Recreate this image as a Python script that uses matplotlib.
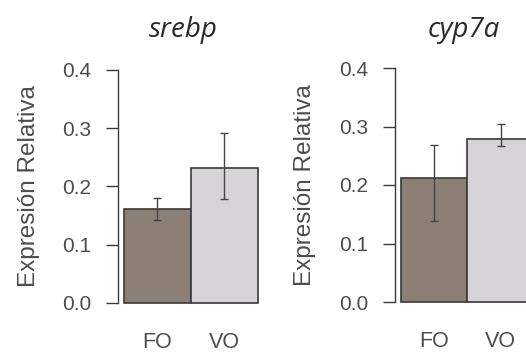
import matplotlib
matplotlib.use("Agg")
import matplotlib.pyplot as plt
import numpy as np

genes = ["srebp", "cyp7a"]
groups = ["FO", "VO"]
# mean relative expression per gene, FO then VO
means = {"srebp": [0.161, 0.231], "cyp7a": [0.212, 0.279]}
# whisker ends
err_lo = {"srebp": [0.143, 0.178], "cyp7a": [0.139, 0.267]}
err_hi = {"srebp": [0.180, 0.291], "cyp7a": [0.268, 0.304]}
yticks = [0.0, 0.1, 0.2, 0.3, 0.4]

bar_colors = ["#8b7f76", "#d6d4d7"]
W, H = 526, 354

fig = plt.figure(figsize=(W / 100, H / 100), dpi=100)
fig.patch.set_facecolor("white")

# panel geometry in pixels: (axis x, y of 0.0, y of 0.4, title centre x)
panels = [(118, 303, 70, 183.5), (394.5, 302, 68, 463.5)]
ax_w = 146.4
xlim = (-0.09, 2.1)

for gene, (px, y0, y4, tx) in zip(genes, panels):
    ax = fig.add_axes([px / W, 1 - y0 / H, ax_w / W, (y0 - y4) / H])
    x = np.arange(len(groups)) + 0.5
    m = np.array(means[gene])
    lo = m - np.array(err_lo[gene])
    hi = np.array(err_hi[gene]) - m
    ax.bar(x, m, width=1.0, color=bar_colors, edgecolor="#3a3a3a",
           linewidth=1.2, clip_on=False, zorder=2)
    ax.errorbar(x, m, yerr=[lo, hi], fmt="none", ecolor="#444444",
                elinewidth=1.0, capsize=3, capthick=1.0, zorder=3)
    ax.set_xlim(*xlim)
    ax.set_ylim(0, 0.4)
    ax.set_yticks(yticks)
    ax.set_yticklabels([f"{t:.1f}" for t in yticks])
    ax.set_xticks(x)
    ax.set_xticklabels(groups)
    for s in ["top", "right", "bottom"]:
        ax.spines[s].set_visible(False)
    ax.spines["left"].set_color("#3a3a3a")
    ax.spines["left"].set_linewidth(1.0)
    ax.tick_params(axis="y", length=9, width=1.0, color="#3a3a3a", pad=10,
                   labelsize=15, labelcolor="#4d4d4d")
    ax.tick_params(axis="x", length=0, pad=21, labelsize=15.5,
                   labelcolor="#4d4d4d")
    for lab in ax.get_xticklabels() + ax.get_yticklabels():
        lab.set_fontfamily("Liberation Sans")
    ax.set_ylabel("Expresión Relativa", fontsize=17.5, color="#4d4d4d",
                  fontfamily="Liberation Sans")
    ax.yaxis.set_label_coords(-0.535, 0.5)
    fig.text(tx / W, 1 - 37 / H, gene, ha="center", va="baseline",
             fontsize=20, style="italic", color="#2a2a2a",
             fontfamily="Open Sans")
    ax.set_facecolor("none")

fig.savefig("out.png", dpi=100, facecolor="white")
